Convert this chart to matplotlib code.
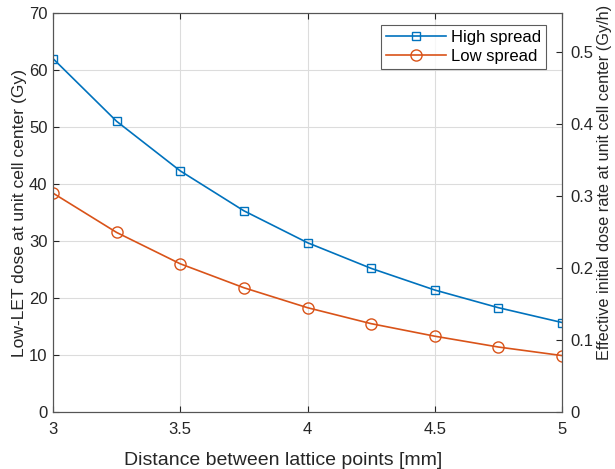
import matplotlib
matplotlib.use("Agg")
import matplotlib.pyplot as plt

plt.rcParams["font.family"] = ["Liberation Sans", "DejaVu Sans"]

spacing = [3, 3.25, 3.5, 3.75, 4, 4.25, 4.5, 4.75, 5]
high_spread = [62.0, 51.0, 42.3, 35.3, 29.7, 25.2, 21.4, 18.3, 15.7]
low_spread = [38.4, 31.5, 26.0, 21.8, 18.3, 15.5, 13.3, 11.4, 9.9]

BLUE = "#0072BD"
ORANGE = "#D95319"
AXC = "#262626"

fig = plt.figure(figsize=(6.15, 4.69), dpi=100)
ax1 = fig.add_axes([53/615, 1 - 412/469, 509/615, 399/469])

ax1.plot(spacing, high_spread, color=BLUE, marker="s", markersize=6, mfc="none",
         mec=BLUE, lw=1.2, label="High spread")
ax1.plot(spacing, low_spread, color=ORANGE, marker="o", markersize=8, mfc="none",
         mec=ORANGE, lw=1.2, label="Low spread")

ax1.set_xlim(3, 5)
ax1.set_ylim(0, 70)
ax1.set_xticks([3, 3.5, 4, 4.5, 5])
ax1.set_xticklabels(["3", "3.5", "4", "4.5", "5"])
ax1.set_yticks(range(0, 71, 10))
ax1.grid(True, color="#dcdcdc", lw=0.8)
ax1.set_axisbelow(True)
ax1.tick_params(direction="in", colors=AXC, labelsize=12, length=4, top=True)
ax1.tick_params(axis="x", pad=7)
ax1.tick_params(axis="y", pad=4)
for s in ax1.spines.values():
    s.set_color("#555555")
ax1.set_xlabel("Distance between lattice points [mm]", fontsize=14, color=AXC, labelpad=11)
ax1.xaxis.set_label_coords(0.452, -0.1)
ax1.xaxis.label.set_va("top")
ax1.set_ylabel("Low-LET dose at unit cell center (Gy)", fontsize=12.6, color=AXC, labelpad=1)

ax2 = ax1.twinx()
ax2.set_ylim(0, 0.554)
ax2.set_yticks([0, 0.1, 0.2, 0.3, 0.4, 0.5])
ax2.set_yticklabels(["0", "0.1", "0.2", "0.3", "0.4", "0.5"])
ax2.tick_params(direction="in", colors=AXC, labelsize=12, length=4, pad=6)
for s in ax2.spines.values():
    s.set_color("#555555")
ax2.set_ylabel("Effective initial dose rate at unit cell center (Gy/h)", fontsize=11.7,
               color=AXC)
ax2.yaxis.set_label_coords(1.068, 0.576)

leg = ax1.legend(loc="upper right", fontsize=12, frameon=True, fancybox=False,
                 edgecolor="#333333", bbox_to_anchor=(0.969, 0.97), borderaxespad=0,
                 handlelength=3.6, borderpad=0.3, labelspacing=0.25, handletextpad=0.3)
leg.get_frame().set_linewidth(0.8)

fig.savefig("out.png", dpi=100)
